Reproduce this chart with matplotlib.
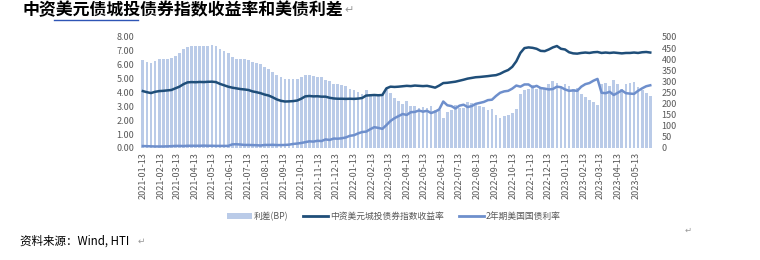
import matplotlib
matplotlib.use("Agg")
import matplotlib.pyplot as plt
from matplotlib.lines import Line2D
from matplotlib.patches import Patch
import pandas as pd

plt.rcParams['font.family'] = ['Noto Sans CJK SC', 'DejaVu Sans']

# weekly observations, first one 2021-01-13
dates = pd.date_range('2021-01-13', periods=126, freq='7D')

# 中资美元城投债券指数收益率 (%)
index_yield = [
    4.10, 4.02, 3.96, 4.05, 4.10, 4.12, 4.15, 4.18, 4.30, 4.42, 4.60, 4.73, 4.75, 4.74, 4.76, 4.75,
    4.77, 4.78, 4.75, 4.62, 4.52, 4.42, 4.35, 4.30, 4.25, 4.22, 4.18, 4.08, 4.02, 3.95, 3.85, 3.78,
    3.65, 3.50, 3.40, 3.35, 3.36, 3.38, 3.42, 3.55, 3.72, 3.75, 3.72, 3.73, 3.70, 3.70, 3.62, 3.57,
    3.55, 3.55, 3.54, 3.55, 3.54, 3.56, 3.60, 3.78, 3.80, 3.82, 3.80, 3.82, 4.30, 4.42, 4.40, 4.42,
    4.45, 4.48, 4.46, 4.50, 4.48, 4.46, 4.48, 4.42, 4.35, 4.50, 4.68, 4.70, 4.74, 4.78, 4.85, 4.92,
    5.00, 5.05, 5.10, 5.12, 5.15, 5.18, 5.22, 5.25, 5.35, 5.50, 5.62, 5.85, 6.25, 6.85, 7.20, 7.25,
    7.22, 7.15, 7.00, 6.98, 7.10, 7.25, 7.35, 7.15, 7.10, 6.90, 6.82, 6.80, 6.85, 6.88, 6.85, 6.90,
    6.92, 6.85, 6.88, 6.85, 6.88, 6.85, 6.82, 6.85, 6.85, 6.88, 6.85, 6.90, 6.92, 6.88,
]

# 2年期美国国债利率 (%)
ust_2y = [
    0.14, 0.13, 0.12, 0.11, 0.11, 0.11, 0.12, 0.13, 0.15, 0.15, 0.14, 0.16, 0.16, 0.16, 0.16, 0.17,
    0.16, 0.16, 0.15, 0.15, 0.15, 0.15, 0.26, 0.27, 0.25, 0.22, 0.22, 0.21, 0.20, 0.18, 0.22, 0.22,
    0.23, 0.21, 0.21, 0.22, 0.24, 0.29, 0.32, 0.36, 0.42, 0.48, 0.46, 0.52, 0.50, 0.62, 0.58, 0.68,
    0.67, 0.70, 0.76, 0.88, 0.92, 1.05, 1.15, 1.18, 1.35, 1.50, 1.45, 1.38, 1.65, 1.95, 2.15, 2.30,
    2.45, 2.38, 2.58, 2.60, 2.70, 2.62, 2.68, 2.52, 2.62, 2.78, 3.35, 3.08, 3.02, 2.85, 3.05, 3.12,
    2.95, 3.02, 3.18, 3.25, 3.32, 3.45, 3.48, 3.75, 3.98, 4.08, 4.12, 4.28, 4.50, 4.42, 4.58, 4.58,
    4.38, 4.48, 4.32, 4.28, 4.22, 4.25, 4.42, 4.38, 4.22, 4.12, 4.15, 4.12, 4.42, 4.60, 4.68, 4.85,
    4.98, 3.98, 3.95, 4.05, 3.82, 3.98, 4.15, 3.95, 3.92, 3.90, 4.12, 4.30, 4.45, 4.52,
]

# 利差 (BP)
spread_bp = [
    396, 389, 384, 394, 399, 401, 403, 405, 415, 427, 446, 457, 459, 458, 460, 458,
    461, 462, 460, 447, 437, 427, 409, 403, 400, 400, 396, 387, 382, 377, 363, 356,
    342, 329, 319, 313, 312, 309, 310, 319, 330, 327, 326, 321, 320, 308, 304, 289,
    288, 285, 278, 267, 262, 251, 245, 260, 245, 232, 235, 244, 265, 247, 225, 212,
    200, 210, 188, 190, 178, 184, 180, 190, 173, 172, 133, 162, 172, 193, 180, 180,
    205, 203, 192, 187, 183, 173, 174, 150, 137, 142, 150, 157, 175, 243, 262, 267,
    284, 267, 268, 270, 288, 300, 293, 277, 288, 278, 267, 268, 243, 228, 217, 205,
    194, 287, 293, 280, 306, 287, 267, 290, 293, 298, 273, 260, 247, 236,
]

tick_dates = pd.date_range('2021-01-13', '2023-05-13', freq=pd.DateOffset(months=1))
left_ticks = [0, 1, 2, 3, 4, 5, 6, 7, 8]
right_ticks = [0, 50, 100, 150, 200, 250, 300, 350, 400, 450, 500]

bar_color = '#BACBE8'
dark_color = '#1F4E79'
light_color = '#6E8FCC'
text_color = '#595959'

fig = plt.figure(figsize=(7.6, 2.6), dpi=100)
ax = fig.add_axes([0.1842, 0.4308, 0.6737, 0.4269])

# bars on the right scale
ax.bar(dates, spread_bp, width=4.8, color=bar_color, linewidth=0)
ax.set_ylim(0, 500)
ax.set_yticks(right_ticks)

# lines on the left scale, drawn above the bars
ax2 = ax.twinx()
ax2.plot(dates, index_yield, color=dark_color, lw=1.8)
ax2.plot(dates, ust_2y, color=light_color, lw=1.8)
ax2.set_ylim(0, 8)
ax2.set_yticks(left_ticks)
ax2.set_yticklabels(['%.2f' % v for v in left_ticks])

# swap sides: spread scale on the right, yields on the left
ax.yaxis.tick_right()
ax.yaxis.set_label_position('right')
ax2.yaxis.tick_left()
ax2.yaxis.set_label_position('left')

ax.set_xlim(pd.Timestamp('2021-01-08'), pd.Timestamp('2023-06-10'))
ax.set_xticks(tick_dates)
ax.set_xticklabels([d.strftime('%Y-%m-%d') for d in tick_dates], rotation=90)

for a in (ax, ax2):
    for s in a.spines.values():
        s.set_visible(False)
    a.tick_params(length=0, labelsize=6.5, labelcolor=text_color)
ax.tick_params(axis='x', pad=3)
ax.tick_params(axis='y', pad=7)
ax2.tick_params(axis='y', pad=4)

handles = [
    Patch(facecolor=bar_color, edgecolor='none'),
    Line2D([], [], color=dark_color, lw=2.0),
    Line2D([], [], color=light_color, lw=2.0),
]
labels = ['利差(BP)', '中资美元城投债券指数收益率', '2年期美国国债利率']
leg = fig.legend(handles, labels, loc='center', bbox_to_anchor=(0.518, 0.168), ncol=3,
                 frameon=False, fontsize=6.3, handlelength=2.9, handleheight=0.6,
                 columnspacing=1.7, handletextpad=0.2)
for t in leg.get_texts():
    t.set_color(text_color)

# title, with the word-processor marks
fig.text(0.029, 0.962, '中资美元债城投债券指数收益率和美债利差', fontsize=12.2,
         fontweight='bold', va='center', ha='left', color='black')
fig.text(0.453, 0.962, '↵', fontsize=8, va='center', ha='left', color='#999999')
fig.add_artist(Line2D([0.071, 0.181], [0.925, 0.925], color='#2E55B5', lw=1.0))

fig.text(0.026, 0.073, '资料来源：Wind, HTI', fontsize=8.3, va='center', ha='left', color='black')
fig.text(0.181, 0.073, '↵', fontsize=6.5, va='center', ha='left', color='#999999')
fig.text(0.901, 0.115, '↵', fontsize=6, va='center', ha='left', color='#999999')

fig.savefig('out.png', dpi=100)
